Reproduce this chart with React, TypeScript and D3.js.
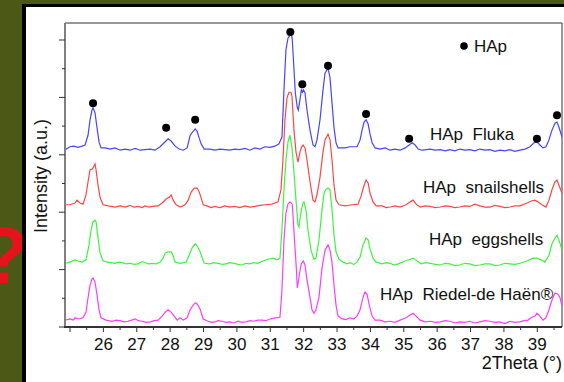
import * as d3 from "d3";

// 2Theta (°) vs intensity (a.u.), each pattern above its own offset
const flukaData: [number, number][] = [
	[24.85, 9], [25.0, 14], [25.12, 15], [25.24, 13], [25.36, 15], [25.45, 17], [25.54, 34], [25.6, 61],
	[25.66, 78], [25.69, 82], [25.75, 73], [25.81, 47], [25.87, 22], [25.93, 12], [26.05, 12], [26.2, 10],
	[26.35, 12], [26.5, 8], [26.65, 10], [26.8, 8], [26.95, 11], [27.1, 8], [27.25, 9], [27.4, 10],
	[27.55, 8], [27.7, 14], [27.82, 21], [27.94, 28], [28.03, 24], [28.15, 15], [28.27, 10], [28.39, 8],
	[28.51, 12], [28.6, 34], [28.69, 41], [28.75, 45], [28.81, 41], [28.87, 29], [28.93, 19], [29.02, 10],
	[29.19, 10], [29.34, 8], [29.49, 10], [29.64, 9], [29.79, 8], [29.94, 10], [30.09, 9], [30.24, 11],
	[30.39, 8], [30.54, 12], [30.69, 10], [30.84, 14], [30.99, 13], [31.14, 15], [31.26, 19], [31.35, 31],
	[31.41, 113], [31.47, 183], [31.53, 203], [31.6, 209], [31.63, 212], [31.66, 200], [31.72, 139], [31.75, 108],
	[31.81, 82], [31.84, 78], [31.9, 100], [31.93, 113], [31.96, 109], [31.99, 113], [32.04, 108], [32.1, 78],
	[32.19, 43], [32.28, 17], [32.34, 14], [32.4, 26], [32.49, 61], [32.58, 113], [32.64, 142], [32.73, 151],
	[32.79, 134], [32.85, 90], [32.91, 47], [32.97, 21], [33.03, 12], [33.24, 12], [33.39, 14], [33.6, 14],
	[33.69, 26], [33.75, 43], [33.81, 57], [33.87, 61], [33.93, 54], [33.99, 36], [34.05, 21], [34.14, 12],
	[34.29, 10], [34.44, 12], [34.59, 8], [34.74, 10], [34.89, 8], [35.04, 12], [35.16, 17], [35.25, 21],
	[35.34, 17], [35.43, 10], [35.55, 8], [35.79, 10], [35.94, 8], [36.09, 9], [36.24, 7], [36.38, 9],
	[36.53, 7], [36.68, 10], [36.83, 8], [36.98, 9], [37.13, 7], [37.28, 10], [37.43, 8], [37.58, 9],
	[37.73, 6], [37.88, 8], [38.03, 7], [38.18, 9], [38.33, 6], [38.48, 8], [38.63, 10], [38.78, 14],
	[38.9, 21], [38.99, 22], [39.08, 17], [39.17, 12], [39.26, 14], [39.35, 26], [39.44, 43], [39.53, 55],
	[39.59, 57], [39.65, 48], [39.74, 31],
];

const snailData: [number, number][] = [
	[24.85, 13], [25.0, 13], [25.15, 16], [25.21, 21], [25.3, 16], [25.39, 14], [25.48, 30], [25.54, 53],
	[25.6, 74], [25.66, 75], [25.69, 77], [25.75, 84], [25.78, 74], [25.84, 47], [25.9, 26], [25.99, 13],
	[26.14, 11], [26.35, 9], [26.5, 11], [26.65, 9], [26.8, 12], [26.92, 9], [27.04, 10], [27.16, 8],
	[27.25, 11], [27.37, 9], [27.46, 10], [27.64, 11], [27.76, 16], [27.88, 23], [27.97, 26], [28.03, 30],
	[28.09, 21], [28.18, 13], [28.3, 9], [28.45, 13], [28.54, 21], [28.63, 35], [28.72, 42], [28.81, 42],
	[28.87, 35], [28.93, 25], [28.99, 13], [29.11, 11], [29.22, 8], [29.34, 10], [29.49, 8], [29.64, 11],
	[29.79, 9], [29.94, 10], [30.09, 8], [30.24, 11], [30.39, 9], [30.54, 10], [30.69, 12], [30.84, 13],
	[31.05, 14], [31.23, 18], [31.32, 39], [31.38, 91], [31.44, 161], [31.5, 199], [31.56, 209], [31.62, 209],
	[31.65, 202], [31.71, 143], [31.77, 105], [31.83, 87], [31.89, 105], [31.95, 115], [31.98, 117], [32.04, 112],
	[32.1, 91], [32.19, 53], [32.28, 21], [32.34, 18], [32.4, 30], [32.49, 61], [32.58, 105], [32.64, 126],
	[32.73, 136], [32.79, 126], [32.85, 91], [32.91, 47], [32.97, 21], [33.06, 13], [33.24, 11], [33.45, 13],
	[33.63, 14], [33.72, 28], [33.81, 47], [33.87, 56], [33.93, 51], [33.99, 33], [34.08, 18], [34.17, 11],
	[34.35, 11], [34.47, 8], [34.59, 9], [34.74, 11], [34.89, 9], [35.07, 13], [35.19, 18], [35.28, 21],
	[35.37, 14], [35.49, 9], [35.64, 11], [35.79, 10], [35.94, 8], [36.09, 9], [36.24, 11], [36.38, 10],
	[36.53, 8], [36.68, 9], [36.83, 11], [36.98, 10], [37.13, 14], [37.28, 11], [37.43, 9], [37.58, 9],
	[37.73, 12], [37.88, 10], [38.03, 8], [38.18, 9], [38.33, 11], [38.48, 11], [38.69, 16], [38.84, 20],
	[38.93, 21], [39.02, 18], [39.14, 13], [39.26, 9], [39.35, 21], [39.44, 39], [39.53, 53], [39.59, 56],
	[39.65, 47], [39.74, 33],
];

const eggData: [number, number][] = [
	[24.85, 11], [25.0, 13], [25.15, 17], [25.24, 15], [25.36, 13], [25.48, 17], [25.57, 43], [25.63, 69],
	[25.69, 83], [25.75, 86], [25.78, 83], [25.84, 55], [25.9, 29], [25.99, 15], [26.14, 13], [26.35, 11],
	[26.45, 13], [26.56, 12], [26.68, 10], [26.8, 11], [26.92, 9], [27.04, 10], [27.16, 14], [27.25, 12],
	[27.35, 10], [27.46, 11], [27.58, 10], [27.7, 13], [27.79, 20], [27.85, 29], [27.94, 31], [28.03, 31],
	[28.09, 24], [28.15, 13], [28.3, 11], [28.48, 13], [28.57, 25], [28.66, 38], [28.75, 45], [28.81, 41],
	[28.9, 31], [28.96, 20], [29.02, 11], [29.19, 10], [29.31, 12], [29.43, 11], [29.55, 9], [29.67, 10],
	[29.79, 12], [29.91, 11], [30.03, 9], [30.15, 8], [30.27, 11], [30.39, 10], [30.51, 12], [30.63, 11],
	[30.78, 15], [30.93, 18], [31.08, 20], [31.2, 17], [31.29, 20], [31.35, 69], [31.41, 139], [31.47, 191],
	[31.53, 222], [31.59, 234], [31.65, 213], [31.71, 170], [31.77, 121], [31.83, 78], [31.86, 74], [31.92, 100],
	[31.98, 116], [32.01, 118], [32.07, 104], [32.13, 69], [32.22, 34], [32.31, 18], [32.37, 20], [32.46, 52],
	[32.55, 104], [32.61, 133], [32.67, 140], [32.73, 142], [32.79, 139], [32.85, 104], [32.91, 60], [32.97, 31],
	[33.06, 18], [33.18, 13], [33.3, 10], [33.39, 12], [33.5, 9], [33.6, 13], [33.69, 22], [33.78, 43],
	[33.87, 55], [33.93, 52], [33.99, 36], [34.08, 20], [34.17, 13], [34.35, 10], [34.47, 12], [34.59, 11],
	[34.71, 8], [34.83, 10], [35.04, 15], [35.19, 18], [35.28, 20], [35.4, 15], [35.52, 10], [35.66, 12],
	[35.79, 11], [35.94, 9], [36.09, 8], [36.24, 11], [36.38, 10], [36.53, 7], [36.68, 8], [36.83, 11],
	[36.98, 10], [37.13, 7], [37.28, 8], [37.43, 10], [37.58, 10], [37.73, 7], [37.88, 8], [38.03, 11],
	[38.18, 10], [38.33, 9], [38.48, 11], [38.69, 15], [38.87, 20], [38.99, 20], [39.11, 17], [39.23, 13],
	[39.35, 25], [39.44, 45], [39.53, 55], [39.59, 60], [39.68, 46], [39.74, 34],
];

const riedelData: [number, number][] = [
	[24.85, 12], [25.0, 14], [25.1, 12], [25.15, 16], [25.27, 14], [25.39, 16], [25.48, 26], [25.54, 51],
	[25.6, 73], [25.66, 84], [25.69, 85], [25.75, 78], [25.81, 56], [25.87, 30], [25.93, 16], [26.08, 12],
	[26.26, 10], [26.38, 12], [26.5, 11], [26.62, 9], [26.74, 10], [26.85, 12], [26.95, 14], [27.05, 11],
	[27.16, 10], [27.28, 8], [27.4, 9], [27.52, 11], [27.64, 12], [27.76, 19], [27.85, 26], [27.94, 30],
	[28.03, 26], [28.12, 19], [28.21, 12], [28.3, 16], [28.39, 12], [28.51, 16], [28.6, 30], [28.69, 38],
	[28.75, 42], [28.81, 40], [28.9, 31], [28.99, 14], [29.14, 10], [29.24, 8], [29.34, 9], [29.44, 11],
	[29.55, 10], [29.67, 8], [29.79, 9], [29.91, 7], [30.03, 10], [30.15, 8], [30.27, 9], [30.39, 11],
	[30.51, 10], [30.63, 12], [30.75, 12], [30.87, 11], [30.99, 14], [31.17, 16], [31.29, 17], [31.35, 64],
	[31.41, 152], [31.47, 199], [31.53, 214], [31.59, 218], [31.66, 214], [31.72, 157], [31.78, 103], [31.81, 68],
	[31.87, 91], [31.93, 110], [31.99, 115], [32.04, 108], [32.1, 82], [32.19, 52], [32.25, 30], [32.31, 24],
	[32.37, 30], [32.46, 52], [32.55, 103], [32.64, 134], [32.73, 143], [32.79, 134], [32.85, 113], [32.91, 73],
	[32.97, 38], [33.03, 19], [33.15, 14], [33.27, 13], [33.39, 16], [33.5, 14], [33.6, 19], [33.69, 30],
	[33.78, 52], [33.84, 61], [33.9, 57], [33.96, 40], [34.05, 19], [34.14, 12], [34.29, 12], [34.44, 9],
	[34.59, 10], [34.74, 8], [34.89, 12], [35.07, 16], [35.19, 21], [35.28, 24], [35.37, 19], [35.49, 12],
	[35.64, 9], [35.79, 10], [35.94, 8], [36.09, 9], [36.24, 11], [36.38, 10], [36.53, 7], [36.68, 9],
	[36.83, 8], [36.98, 10], [37.13, 7], [37.28, 9], [37.43, 11], [37.58, 10], [37.73, 8], [37.88, 9],
	[38.03, 6], [38.18, 10], [38.33, 8], [38.48, 9], [38.6, 11], [38.72, 12], [38.84, 17], [38.93, 19],
	[38.99, 24], [39.08, 19], [39.17, 12], [39.26, 16], [39.35, 30], [39.44, 47], [39.53, 59], [39.62, 57],
	[39.68, 51], [39.74, 37],
];

// HAp reflections marked on the Fluka pattern
const hapMarkers: [number, number][] = [
	[25.69, 90], [27.88, 47], [28.75, 61], [31.6, 214], [31.96, 123],
	[32.73, 155], [33.87, 71], [35.16, 28], [38.99, 28], [39.59, 69],
];

const seriesNames = ["HAp  Fluka", "HAp  snailshells", "HAp  eggshells", "HAp  Riedel-de Haën®"];
const seriesColors = ["#4646ff", "#ff4646", "#3cf53c", "#ff3cff"];
const seriesOffsets = [300, 200, 100, 0];
const seriesData = [flukaData, snailData, eggData, riedelData];

const xTickValues = d3.range(25, 39.51, 0.5);
const xLabelValues = d3.range(26, 40, 1);
const yTickValues = d3.range(0, 501, 50);

const W = 564;
const H = 382;
const plot = { left: 65, right: 562, top: 23, bottom: 327 };
const font = "Liberation Sans, Arial, sans-serif";

export default function App() {
	const x = d3.scaleLinear().domain([24.85, 39.74]).range([plot.left, plot.right]);
	const y = d3.scaleLinear().domain([0, 529.6]).range([plot.bottom, plot.top]);

	const labelPos = [
		{ x: 430, y: 140 },
		{ x: 423, y: 193 },
		{ x: 429, y: 245 },
		{ x: 380, y: 300 },
	];

	return (
		<svg width={W} height={H} style={{ position: "absolute", left: 0, top: 0 }} fontFamily={font}>
			<defs>
				<clipPath id="plotClip">
					<rect x={plot.left} y={plot.top} width={plot.right - plot.left} height={plot.bottom - plot.top} />
				</clipPath>
			</defs>
			{/* slide background and frame */}
			<rect x={0} y={0} width={W} height={H} fill="#4b5816" />
			<text x={4} y={283} fontSize={80} fontWeight="bold" fill="#e8121a" textAnchor="middle">?</text>
			<rect x={22} y={4} width={W} height={H} fill="#000" />
			<rect x={26} y={7} width={W} height={H} fill="#fff" />

			{/* plot box */}
			<line x1={plot.left} x2={plot.right} y1={plot.top} y2={plot.top} stroke="#333" strokeWidth={1} />
			<line x1={plot.right} x2={plot.right} y1={plot.top} y2={plot.bottom} stroke="#333" strokeWidth={1} />

			{/* traces */}
			<g clipPath="url(#plotClip)">
				{seriesData.map((data, i) => {
					const line = d3
						.line<[number, number]>()
						.x((d) => x(d[0]))
						.y((d) => y(d[1] + seriesOffsets[i]));
					return <path key={i} d={line(data) ?? ""} fill="none" stroke={seriesColors[i]} strokeWidth={1.2} />;
				})}
			</g>

			{/* HAp markers */}
			{hapMarkers.map((d, i) => (
				<circle key={i} cx={x(d[0])} cy={y(d[1] + seriesOffsets[0])} r={4} fill="#000" />
			))}
			<circle cx={464} cy={46} r={3.8} fill="#000" />
			<text x={474} y={52} fontSize={17} fill="#111">HAp</text>

			{/* series labels */}
			{seriesNames.map((name, i) => (
				<text key={name} x={labelPos[i].x} y={labelPos[i].y} fontSize={17} fill="#111" style={{ whiteSpace: "pre" }}>
					{name}
				</text>
			))}

			{/* y axis */}
			<line x1={plot.left} x2={plot.left} y1={plot.top} y2={plot.bottom} stroke="#808080" strokeWidth={2} />
			{yTickValues.map((t) => (
				<line
					key={t}
					x1={plot.left - (t % 100 === 0 ? 6 : 3)}
					x2={plot.left}
					y1={y(t)}
					y2={y(t)}
					stroke="#333"
					strokeWidth={1}
				/>
			))}
			<text
				transform={`translate(47, 176) rotate(-90)`}
				fontSize={18}
				fill="#111"
				textAnchor="middle"
			>
				Intensity (a.u.)
			</text>

			{/* x axis */}
			<line x1={plot.left - 1} x2={plot.right} y1={plot.bottom} y2={plot.bottom} stroke="#333" strokeWidth={2} />
			{xTickValues.map((t) => (
				<line
					key={t}
					x1={x(t)}
					x2={x(t)}
					y1={plot.bottom}
					y2={plot.bottom + (Number.isInteger(t) ? 5 : 3)}
					stroke="#333"
					strokeWidth={1}
				/>
			))}
			{xLabelValues.map((t) => (
				<text key={t} x={x(t)} y={350} fontSize={17} fill="#111" textAnchor="middle">
					{t}
				</text>
			))}
			<text x={562} y={369} fontSize={18} fill="#111" textAnchor="end">
				2Theta (°)
			</text>
		</svg>
	);
}
